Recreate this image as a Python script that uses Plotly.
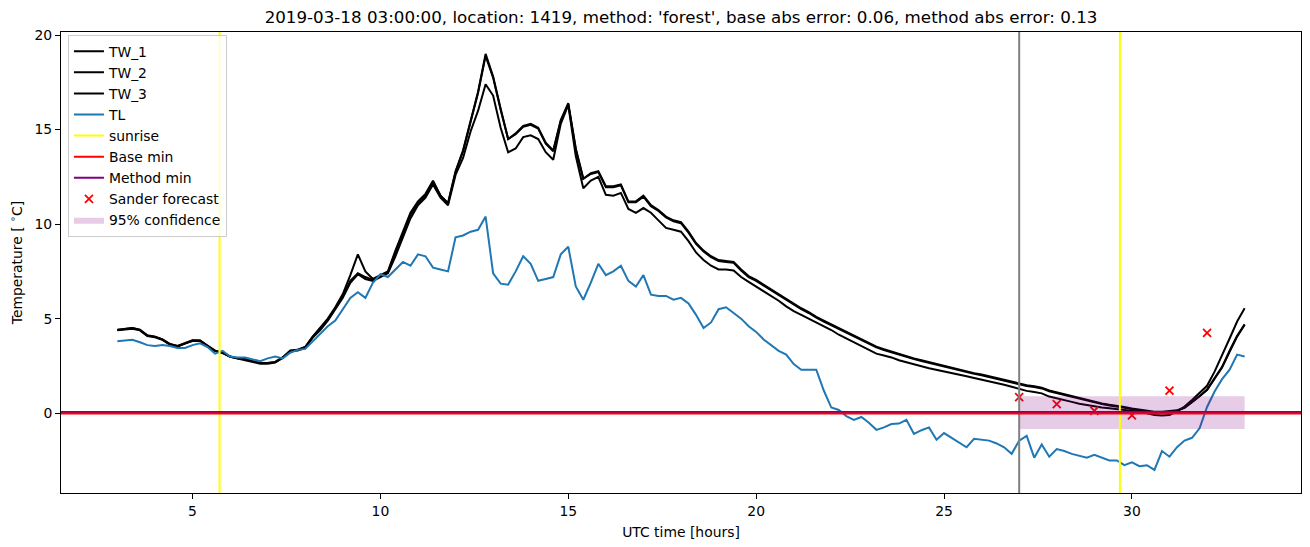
import numpy as np
import plotly.graph_objects as go

# ---------------- data ----------------
hours = np.round(np.arange(3.0, 33.0001, 0.2), 1)

tw_1 = [
    4.4, 4.45, 4.5, 4.4, 4.1, 4.05, 3.9, 3.65, 3.55, 3.7,
    3.85, 3.85, 3.55, 3.3, 3.2, 3.0, 2.9, 2.85, 2.75, 2.65,
    2.65, 2.7, 2.95, 3.3, 3.35, 3.5, 4.05, 4.5, 5.0, 5.6,
    6.3, 7.3, 8.4, 7.5, 7.1, 7.3, 7.5, 8.6, 9.6, 10.6,
    11.2, 11.6, 12.3, 11.5, 11.1, 12.8, 13.9, 15.5, 17.0, 19.0,
    17.8, 16.1, 14.5, 14.8, 15.2, 15.3, 15.1, 14.3, 13.9, 15.5,
    16.4, 14.0, 12.4, 12.7, 12.8, 12.0, 12.0, 12.1, 11.2, 11.2,
    11.5, 11.0, 10.75, 10.4, 10.2, 10.1, 9.6, 9.0, 8.6, 8.3,
    8.1, 8.05, 8.0, 7.6, 7.25, 7.05, 6.8, 6.55, 6.3, 6.05,
    5.8, 5.55, 5.35, 5.1, 4.9, 4.7, 4.5, 4.32, 4.12, 3.92,
    3.72, 3.52, 3.38, 3.25, 3.12, 3.0, 2.9, 2.8, 2.7, 2.6,
    2.5, 2.42, 2.32, 2.22, 2.12, 2.05, 1.95, 1.87, 1.78, 1.68,
    1.58, 1.48, 1.42, 1.35, 1.2, 1.1, 1.0, 0.9, 0.78, 0.68,
    0.6, 0.52, 0.45, 0.4, 0.33, 0.25, 0.18, 0.12, 0.08, 0.08,
    0.1, 0.15, 0.3, 0.6, 0.9, 1.25, 1.85, 2.45, 3.3, 4.1,
    4.7,
]

tw_2 = [
    4.42, 4.47, 4.5, 4.42, 4.12, 4.05, 3.9, 3.66, 3.56, 3.7,
    3.86, 3.85, 3.56, 3.31, 3.2, 3.0, 2.9, 2.85, 2.75, 2.66,
    2.66, 2.71, 2.95, 3.3, 3.36, 3.5, 4.05, 4.48, 4.95, 5.55,
    6.2, 7.0, 7.4, 7.2, 7.05, 7.25, 7.45, 8.5, 9.5, 10.5,
    11.1, 11.5, 12.25, 11.5, 11.1, 12.75, 13.85, 15.45, 16.95, 18.9,
    17.75, 16.05, 14.5, 14.75, 15.15, 15.25, 15.05, 14.25, 13.85, 15.45,
    16.35, 13.95, 12.4, 12.65, 12.75, 11.95, 11.95, 12.05, 11.15, 11.15,
    11.45, 10.95, 10.7, 10.35, 10.15, 10.05, 9.55, 8.95, 8.55, 8.25,
    8.05, 8.0, 7.95, 7.55, 7.2, 7.0, 6.75, 6.5, 6.25, 6.0,
    5.75, 5.5, 5.3, 5.05, 4.85, 4.65, 4.45, 4.28, 4.08, 3.88,
    3.68, 3.48, 3.34, 3.21, 3.08, 2.96, 2.86, 2.76, 2.66, 2.56,
    2.46, 2.38, 2.28, 2.18, 2.08, 2.01, 1.91, 1.83, 1.74, 1.64,
    1.54, 1.44, 1.38, 1.31, 1.16, 1.06, 0.96, 0.86, 0.74, 0.64,
    0.56, 0.48, 0.41, 0.36, 0.29, 0.21, 0.14, 0.08, 0.05, 0.05,
    0.07, 0.13, 0.28, 0.58, 0.88, 1.22, 1.82, 2.42, 3.25, 4.05,
    4.68,
]

tw_3 = [
    4.38, 4.42, 4.47, 4.38, 4.08, 4.02, 3.88, 3.62, 3.52, 3.68,
    3.82, 3.82, 3.52, 3.28, 3.18, 2.98, 2.88, 2.82, 2.72, 2.62,
    2.62, 2.68, 2.92, 3.28, 3.32, 3.45, 4.0, 4.4, 4.9, 5.5,
    6.1, 6.9, 7.35, 7.1, 7.0, 7.2, 7.4, 8.3, 9.3, 10.3,
    11.0, 11.4, 12.1, 11.4, 11.0, 12.6, 13.5, 14.9, 16.0, 17.4,
    16.8, 15.1, 13.8, 14.0, 14.6, 14.7, 14.5, 13.8, 13.4, 15.3,
    16.3, 13.6, 11.9, 12.3, 12.5, 11.55, 11.5, 11.65, 10.8, 10.6,
    10.85, 10.6, 10.2, 9.8, 9.7, 9.6, 9.1, 8.5, 8.1, 7.8,
    7.6, 7.6, 7.55, 7.2, 6.95, 6.7, 6.45, 6.2, 5.95, 5.65,
    5.4, 5.2, 5.0, 4.8, 4.6, 4.4, 4.15, 3.95, 3.75, 3.55,
    3.35, 3.15, 3.05, 2.95, 2.8, 2.68, 2.58, 2.48, 2.38, 2.3,
    2.22, 2.13, 2.03, 1.95, 1.86, 1.78, 1.7, 1.6, 1.5, 1.4,
    1.28, 1.18, 1.12, 1.05, 0.88, 0.8, 0.7, 0.6, 0.5, 0.42,
    0.35, 0.3, 0.26, 0.22, 0.17, 0.12, 0.08, 0.0, -0.1, -0.12,
    -0.1, 0.1, 0.35, 0.7, 1.05, 1.45, 2.2, 3.05, 3.95, 4.85,
    5.55,
]

tl = [
    3.8, 3.85, 3.88, 3.75, 3.6, 3.55, 3.6, 3.55, 3.45, 3.45,
    3.6, 3.7, 3.5, 3.15, 3.3, 3.0, 2.95, 2.95, 2.85, 2.75,
    2.9, 3.0, 2.9, 3.2, 3.35, 3.4, 3.8, 4.2, 4.6, 4.9,
    5.5, 6.1, 6.4, 6.1, 6.9, 7.35, 7.2, 7.6, 8.0, 7.8,
    8.4, 8.3, 7.7, 7.6, 7.5, 9.3, 9.4, 9.6, 9.7, 10.4,
    7.4, 6.85, 6.8, 7.5, 8.3, 7.9, 7.0, 7.1, 7.2, 8.4,
    8.8, 6.7, 6.0, 6.9, 7.9, 7.3, 7.5, 7.8, 7.0, 6.7,
    7.3, 6.27, 6.2, 6.2, 6.0, 6.1, 5.8, 5.2, 4.5, 4.8,
    5.5, 5.6, 5.3, 5.0, 4.6, 4.3, 3.9, 3.6, 3.3, 3.1,
    2.6, 2.3, 2.3, 2.3, 1.2, 0.3, 0.17, -0.15, -0.35, -0.2,
    -0.5, -0.88, -0.75, -0.57, -0.55, -0.35, -1.1, -0.9, -0.75, -1.4,
    -1.05, -1.3, -1.55, -1.8, -1.35, -1.4, -1.45, -1.6, -1.8, -2.15,
    -1.45, -1.2, -2.35, -1.65, -2.3, -1.9, -2.0, -2.15, -2.25, -2.35,
    -2.2, -2.35, -2.5, -2.5, -2.75, -2.6, -2.8, -2.75, -3.0, -2.0,
    -2.3, -1.8, -1.45, -1.3, -0.8, 0.33, 1.15, 1.8, 2.3, 3.1,
    3.0,
]

sunrise_hours = [5.72, 29.68]
forecast_start = 27.0
base_min = -0.02
method_min = 0.07

sander_hours = [27, 28, 29, 30, 31, 32]
sander_values = [0.85, 0.48, 0.13, -0.12, 1.19, 4.25]

conf_hours = [27.0, 33.0]
conf_low = -0.83
conf_high = 0.9

x_ticks = [5, 10, 15, 20, 25, 30]
y_ticks = [0, 5, 10, 15, 20]

title_text = ("2019-03-18 03:00:00, location: 1419, method: 'forest', "
              "base abs error: 0.06, method abs error: 0.13")

# ---------------- figure ----------------
FONT = "DejaVu Sans"
fig = go.Figure()

for name, vals in [("TW_1", tw_1), ("TW_2", tw_2), ("TW_3", tw_3)]:
    fig.add_trace(go.Scatter(x=hours, y=vals, mode="lines", name=name,
                             line=dict(color="black", width=2)))
fig.add_trace(go.Scatter(x=hours, y=tl, mode="lines", name="TL",
                         line=dict(color="#1f77b4", width=2)))

# legend-only entries for the reference lines
fig.add_trace(go.Scatter(x=[None], y=[None], mode="lines", name="sunrise",
                         line=dict(color="yellow", width=2)))
fig.add_trace(go.Scatter(x=[None], y=[None], mode="lines", name="Base min",
                         line=dict(color="red", width=2)))
fig.add_trace(go.Scatter(x=[None], y=[None], mode="lines", name="Method min",
                         line=dict(color="purple", width=2)))

fig.add_trace(go.Scatter(x=sander_hours, y=sander_values, mode="markers",
                         name="Sander forecast",
                         marker=dict(symbol="x-thin", size=8, color="red",
                                     line=dict(color="red", width=1.8))))

fig.add_trace(go.Scatter(
    x=[conf_hours[0], conf_hours[1], conf_hours[1], conf_hours[0], conf_hours[0]],
    y=[conf_low, conf_low, conf_high, conf_high, conf_low],
    mode="lines", fill="toself", fillcolor="rgba(128,0,128,0.2)",
    line=dict(width=0, color="rgba(128,0,128,0)"), name="95% confidence"))

shapes = []
for s in sunrise_hours:
    shapes.append(dict(type="line", xref="x", yref="paper", x0=s, x1=s, y0=0, y1=1,
                       line=dict(color="yellow", width=2), layer="above"))
shapes.append(dict(type="line", xref="x", yref="paper", x0=forecast_start,
                   x1=forecast_start, y0=0, y1=1,
                   line=dict(color="grey", width=2), layer="above"))
shapes.append(dict(type="line", xref="paper", yref="y", x0=0, x1=1,
                   y0=method_min, y1=method_min,
                   line=dict(color="purple", width=2), layer="above"))
shapes.append(dict(type="line", xref="paper", yref="y", x0=0, x1=1,
                   y0=base_min, y1=base_min,
                   line=dict(color="red", width=2), layer="above"))

fig.update_layout(
    width=1310, height=547,
    margin=dict(l=61, r=9, t=32, b=54),
    paper_bgcolor="white", plot_bgcolor="white",
    font=dict(family=FONT, size=13.9, color="black"),
    title=dict(text=title_text, x=0.5, xref="paper", xanchor="center",
               y=1 - 17 / 547, yref="container", yanchor="middle",
               font=dict(size=16.7, family=FONT)),
    shapes=shapes,
    showlegend=True,
    legend=dict(x=0.0056, y=0.994, xanchor="left", yanchor="top",
                bgcolor="rgba(255,255,255,0.8)", bordercolor="#cccccc",
                borderwidth=1, font=dict(size=13.9, family=FONT),
                tracegroupgap=0, itemwidth=30),
)
fig.update_xaxes(range=[1.5, 34.5], tickvals=x_ticks,
                 ticktext=[str(v) for v in x_ticks],
                 tickfont=dict(size=13.9, family=FONT),
                 showgrid=False, zeroline=False, showline=True, mirror=True,
                 linecolor="black", linewidth=1, ticks="outside", ticklen=5,
                 tickwidth=1, tickcolor="black",
                 title=dict(text="UTC time [hours]", standoff=9,
                            font=dict(size=13.9, family=FONT)))
fig.update_yaxes(range=[-4.22, 20.16], tickvals=y_ticks,
                 ticktext=[str(v) for v in y_ticks],
                 tickfont=dict(size=13.9, family=FONT),
                 showgrid=False, zeroline=False, showline=True, mirror=True,
                 linecolor="black", linewidth=1, ticks="outside", ticklen=5,
                 tickwidth=1, tickcolor="black",
                 title=dict(text="Temperature [ <sup>∘</sup>C]", standoff=8,
                            font=dict(size=13.9, family=FONT)))

fig.write_html("out.html")
